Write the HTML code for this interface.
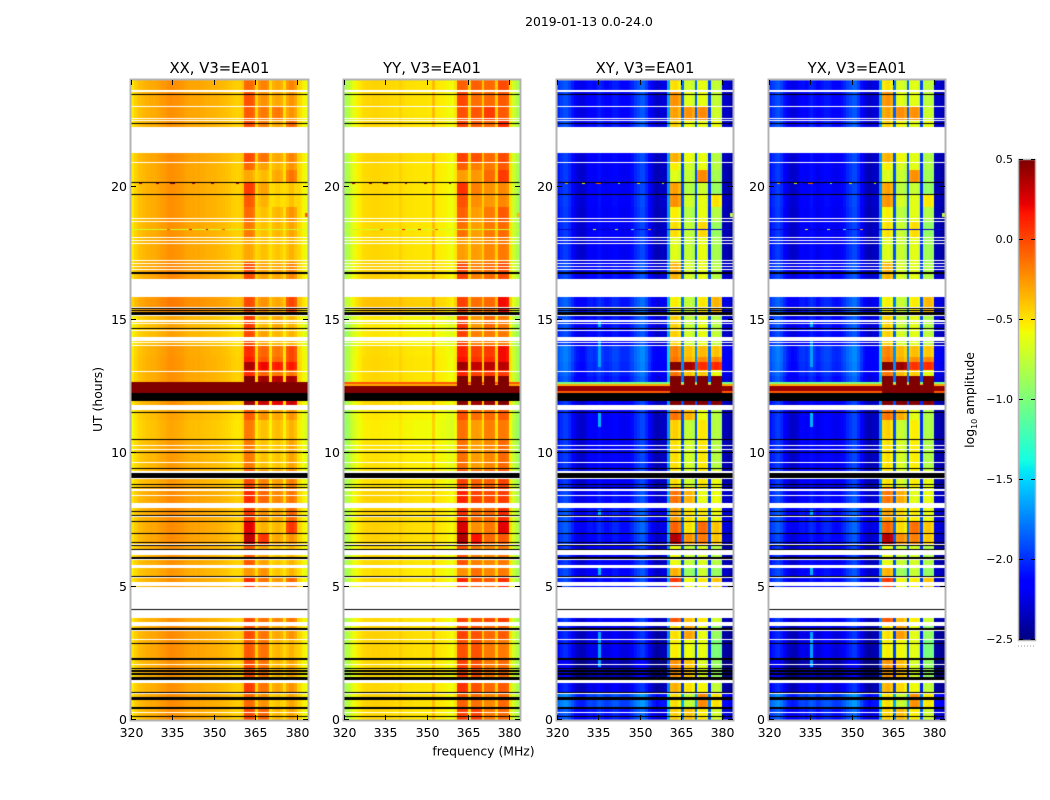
<!DOCTYPE html>
<html lang="en">
<head>
<meta charset="utf-8">
<title>2019-01-13 0.0-24.0</title>
<style>
html,body{margin:0;padding:0;background:#fff;}
#figure{position:relative;width:1050px;height:800px;overflow:hidden;background:#fff;font-family:"DejaVu Sans","Liberation Sans",sans-serif;color:#000;}
canvas{position:absolute;display:block;}
svg{position:absolute;left:0;top:0;}
svg text{font-family:"DejaVu Sans","Liberation Sans",sans-serif;fill:#000;}
</style>
</head>
<body>
<div id="figure">
<svg id="overlay" width="1050" height="800" viewBox="0 0 1050 800">
  <text x="589" y="26" font-size="12.4" text-anchor="middle">2019-01-13 0.0-24.0</text>
  <text x="483.5" y="755.5" font-size="12.4" text-anchor="middle">frequency (MHz)</text>
  <text transform="translate(102,399.5) rotate(-90)" font-size="12.4" text-anchor="middle">UT (hours)</text>
  <text transform="translate(974,400) rotate(-90)" font-size="12.4" text-anchor="middle">log<tspan font-size="8" dy="3">10</tspan><tspan dy="-3"> amplitude</tspan></text>
</svg>
</div>
<script>
// ---- Data ----
const panelTitles = ['XX, V3=EA01','YY, V3=EA01','XY, V3=EA01','YX, V3=EA01'];
const freqTicks = [320,335,350,365,380];
const hourTicks = [0,5,10,15,20];
const colorbarTicks = [0.5,0,-0.5,-1,-1.5,-2,-2.5];
const freqRange = [320,384];
const hourRange = [0,24];
const colorRange = [-2.5,0.5];
const channelCount = 64;
const slotsPerHour = 26.6667;   // 2.25 minute time bins
const totalSlots = 640;

// Base log10 amplitude of each 1 MHz channel
const xxProfile = [-.52,-.44,-.40,-.38,-.36,-.34,-.33,-.32,-.32,-.30,-.28,-.27,-.26,-.23,-.22,-.23,-.24,-.25,-.26,-.28,-.29,-.30,-.30,-.31,-.30,-.31,-.32,-.33,-.33,-.34,-.34,-.35,-.36,-.37,-.38,-.40,-.42,-.43,-.44,-.43,-.38,-.06,-.05,-.06,-.12,-.45,-.22,-.18,-.18,-.22,-.48,-.28,-.25,-.24,-.28,-.48,-.25,-.18,-.18,-.25,-.45,-.48,-.55,-.62];
const yyProfile = [-.85,-.78,-.70,-.62,-.56,-.52,-.49,-.47,-.46,-.46,-.45,-.45,-.45,-.46,-.46,-.46,-.47,-.47,-.48,-.48,-.44,-.48,-.49,-.49,-.49,-.50,-.50,-.50,-.50,-.50,-.51,-.51,-.37,-.52,-.52,-.53,-.54,-.56,-.58,-.60,-.50,-.02,-.02,-.02,-.05,-.45,-.07,-.07,-.07,-.09,-.42,-.05,-.05,-.05,-.07,-.42,.00,.00,.00,-.03,-.50,-.70,-.80,-.85];
const xyProfile = [-2.05,-2.00,-1.95,-1.95,-2.02,-2.12,-2.22,-2.27,-2.30,-2.30,-2.25,-2.18,-2.17,-2.20,-2.15,-2.10,-2.15,-2.20,-2.20,-2.17,-2.12,-2.12,-2.15,-2.20,-2.20,-2.20,-2.15,-2.10,-2.02,-1.97,-1.92,-1.92,-2.02,-2.17,-2.27,-2.32,-2.37,-2.33,-2.32,-2.32,-1.70,-.55,-.52,-.52,-.60,-1.90,-.72,-.68,-.68,-.75,-1.90,-.64,-.60,-.60,-.66,-2.00,-.83,-.78,-.78,-.85,-2.35,-2.35,-2.40,-2.40];
const yxProfile = [-2.08,-2.02,-1.97,-1.95,-2.02,-2.13,-2.22,-2.28,-2.32,-2.30,-2.25,-2.18,-2.17,-2.20,-2.15,-2.10,-2.15,-2.22,-2.20,-2.15,-2.12,-2.12,-2.15,-2.20,-2.22,-2.20,-2.15,-2.10,-2.02,-1.97,-1.92,-1.92,-2.02,-2.17,-2.27,-2.32,-2.37,-2.33,-2.32,-2.32,-1.70,-.57,-.54,-.52,-.60,-1.90,-.70,-.66,-.66,-.74,-1.90,-.66,-.62,-.62,-.68,-2.00,-.83,-.80,-.80,-.85,-2.35,-2.35,-2.40,-2.40];
const channelProfiles = [xxProfile,yyProfile,xyProfile,yxProfile];
const polFamily = ['auto','auto','cross','cross'];

// Channels belonging to each of the four bright sub-bands
const subBands = [[41,44],[46,49],[51,54],[56,59]];

// Time epochs: fromSlot, toSlot, autoBg, crossBg, auto sub-band offsets x4, cross sub-band offsets x4
const timeEpochs = [
 [0,11,   0,   .10,  .05,.10,-.10,-.10,  .10,.30,.10,.10],
 [11,26,  .02, .25, -.05,-.05,-.15,-.10, .05,-.05,.40,.30],
 [26,40,  0,  -.05,  .10,.05,-.05,-.05,  .20,.20,.05,.05],
 [40,62,  0,  -.20,  .05,.05,-.10,-.10,  .30,.30,-.05,-.10],
 [62,80,  .02,-.05,  .00,.05,-.10,-.15,  .00,.10,.00,-.20],
 [80,94,  .02,-.05,  .05,.05,-.05,-.05,  .05,.40,.00,-.10],
 [94,133, 0,   .00,  .05,.05,.05,.05,    .50,.30,.10,.10],
 [133,143,.00, .05,  .15,.05,.00,.10,    .60,.10,.10,.40],
 [143,155,-.02,.05, -.20,-.05,-.15,-.15, .20,-.20,-.10,-.10],
 [155,174,.00, .00,  .00,-.10,-.15,-.15, -.05,-.05,-.05,.00],
 [174,187,.02, .05,  .40,.25,-.05,-.05,  .90,.45,.45,.40],
 [187,198,.02, .10,  .30,-.15,-.10,.25,  .45,.20,.50,.40],
 [198,213,.02, .10,  .10,-.05,-.05,.10,  .25,.20,.10,.20],
 [213,232,.02, .05,  .15,.10,.05,.05,    .40,.35,.00,.20],
 [232,250,-.02,.00,  .05,.00,-.02,.02,   .05,.00,.10,.20],
 [250,280,-.03,.00, -.10,-.20,-.15,-.10, .05,.00,.10,.00],
 [280,300,-.07,.00, -.10,-.20,-.12,-.15, .10,-.05,.10,.00],
 [300,315,-.05,.00,  .00,-.05,-.05,-.05, .40,.35,.00,.00],
 [315,327,.00, .00,  .50,.50,.50,.50,    1.3,1.3,1.3,1.3],
 [327,338,.00, .00,  .50,.50,.50,.50,    1.3,1.3,1.3,1.3],
 [338,344,.00, .10,  .60,.60,.60,.60,    1.4,1.4,1.4,1.4],
 [344,350,.00, .15,  .15,.10,.10,.05,    .40,.30,.20,.20],
 [350,358,.00, .18,  .45,.40,.40,.35,    1.2,1.1,.70,.90],
 [358,363,.00, .20,  .20,.15,.15,.20,    .40,.35,.40,.60],
 [363,374,-.01,.20,  .15,.10,.10,.20,    .35,.30,.25,.40],
 [374,389,-.05,.05,  .05,-.10,-.10,-.15, .10,.00,.00,.05],
 [389,405,-.06,.08,  .10,-.18,-.05,-.15, .10,-.05,.00,.00],
 [405,423,.07, .12,  .05,-.05,-.05,.20,  .00,-.05,.10,.45],
 [441,458,.03, .05,  .05,-.10,-.05,.00,  .20,.00,.00,.00],
 [458,482,.00, .00, -.25,-.20,-.15,-.15, -.10,-.05,.00,-.05],
 [482,498,.00, .00, -.10,-.20,-.10,-.10, .05,-.05,.15,-.10],
 [498,513,.00, .00, -.05,-.20,-.10,-.05, .00,-.10,.00,.00],
 [513,525,.00, .02,  .00,-.15,-.20,-.20, .30,.00,.00,.30],
 [525,537,.00, .00,  .10,-.10,-.18,-.20, .25,-.10,-.10,-.10],
 [537,550,.00, .00, -.25,-.18,-.05,.05, -.10,-.05,.40,-.05],
 [550,557,.00, .00, -.05,-.10,-.10,-.05, .00,.00,.00,.00],
 [557,567,.02, .02,  .05,.05,-.05,.00,   .20,.10,.00,.00],
 [593,600,.00, .08,  .05,.02,-.05,.10,   .10,.10,.00,.20],
 [600,613,.00, .05,  .00,.03,.10,-.05,   .25,.45,.40,.10],
 [613,628,.01, .05,  .03,-.05,-.05,-.05, .30,.05,.00,.05],
 [628,640,.01, .08, -.05,.00,-.05,.00,   .05,.00,.00,.05]
];

// Time bins with no data (drawn white): fromSlot, toSlot
const flaggedSlots = [[7,8],[26,27],[37,40],[55,56],[80,81],[89,90],[94,98],[102,110],[111,133],[134,138],[142,143],[152,155],[160,161],[165,170],[175,176],[203,204],[212,217],[224,225],[229,231],[241,242],[247,249],[257,258],[270,271],[274,275],[310,315],[348,349],[374,375],[377,378],[379,383],[389,390],[396,397],[398,400],[404,405],[412,413],[423,441],[450,451],[453,454],[456,457],[459,460],[476,477],[479,480],[482,483],[498,499],[501,502],[557,558],[567,593],[599,600],[601,602],[613,614],[628,630]];

// Time bins with zero amplitude (drawn black): fromSlot, toSlot
const zeroSlots = [[3,4],[11,13],[20,23],[27,28],[40,43],[45,47],[48,50],[51,52],[60,62],[76,77],[90,92],[110,111],[143,144],[161,163],[170,171],[174,175],[177,178],[186,187],[198,199],[204,205],[208,209],[232,233],[235,236],[242,247],[251,252],[267,268],[280,281],[307,308],[319,327],[391,392],[405,408],[409,410],[411,412],[446,448],[525,526],[537,538],[596,597],[625,626]];

// Absolute overrides: fromSlot, toSlot, fromChannel, toChannel, XX, YY, XY, YX (null keeps the value)
const overrides = [
 [327,329,0,63,  .50,.50,-.05,-.05],
 [329,334,0,63,  .50,.50,.45,.45],
 [334,336,0,63,  .50,-.30,-.30,-.30],
 [336,338,0,63,  .50,-.05,-1.0,-1.0],
 [327,335,41,59, .50,.50,.50,.50],
 [335,338,41,44, .50,.50,.50,.50],
 [335,338,46,49, .50,.50,.50,.50],
 [335,338,51,54, .50,.50,.50,.50],
 [335,338,56,59, .50,.50,.50,.50],
 [503,507,63,63, -.05,-.35,-.75,-.75],
 [490,491,0,63,  -.70,-.70,-2.3,-2.3],
 [490,491,13,13, -.05,-.05,-.60,-.60],
 [490,491,21,21, .20,.20,-.70,-.70],
 [490,491,27,27, .40,.40,-1.2,-1.2],
 [490,491,33,33, -.05,-.05,-.30,-.30],
 [536,537,3,3,   .40,.40,-.30,-.30],
 [536,537,9,9,   .40,.40,-.60,-.60],
 [536,537,14,15, .50,.50,-.10,-.10],
 [536,537,22,22, .40,.40,-1.0,-1.0],
 [536,537,29,29, .45,.45,-.50,-.50],
 [536,537,38,38, .40,.40,-.70,-.70],
 [53,88,15,15,   null,null,-1.65,-1.65],
 [145,153,15,15, null,null,-1.60,-1.60],
 [205,210,15,15, null,null,-1.60,-1.60],
 [293,307,15,15, null,null,-1.60,-1.60],
 [353,383,15,15, null,null,-1.65,-1.65],
 [393,400,15,15, null,null,-1.60,-1.60]
];

// ---- Scales ----
const panelLeft = [131,344,557,769];
const panelRight = [308,520,733,945];
const plotTop = 80, plotBottom = 720;
const cbLeft = 1019, cbRight = 1035, cbTop = 160, cbBottom = 640;

function xScale(p, mhz){ return panelLeft[p] + (mhz-freqRange[0])/(freqRange[1]-freqRange[0])*(panelRight[p]-panelLeft[p]); }
function yScale(hours){ return plotBottom - (hours-hourRange[0])/(hourRange[1]-hourRange[0])*(plotBottom-plotTop); }
function cbScale(v){ return cbBottom - (v-colorRange[0])/(colorRange[1]-colorRange[0])*(cbBottom-cbTop); }

function lerpStops(t, stops){
  if(t<=stops[0][0]) return stops[0][1];
  for(let i=1;i<stops.length;i++){
    if(t<=stops[i][0]){
      const a=stops[i-1], b=stops[i];
      return a[1]+(b[1]-a[1])*(t-a[0])/(b[0]-a[0]);
    }
  }
  return stops[stops.length-1][1];
}
function jet(v){
  const t=Math.max(0,Math.min(1,(v-colorRange[0])/(colorRange[1]-colorRange[0])));
  const r=lerpStops(t,[[.35,0],[.66,1],[.89,1],[1,.5]]);
  const g=lerpStops(t,[[.125,0],[.375,1],[.64,1],[.91,0]]);
  const b=lerpStops(t,[[0,.5],[.11,1],[.34,1],[.65,0]]);
  return 'rgb('+Math.round(r*255)+','+Math.round(g*255)+','+Math.round(b*255)+')';
}

// ---- Per-slot lookup tables ----
const slotState = new Array(totalSlots).fill(0);
flaggedSlots.forEach(function(s){ for(let i=s[0];i<s[1];i++) slotState[i]=1; });
zeroSlots.forEach(function(s){ for(let i=s[0];i<s[1];i++) slotState[i]=2; });
const slotEpoch = new Array(totalSlots).fill(null);
timeEpochs.forEach(function(e){ for(let i=e[0];i<e[1];i++) slotEpoch[i]=e; });
const channelBand = new Array(channelCount).fill(-1);
subBands.forEach(function(b,k){ for(let c=b[0];c<=b[1];c++) channelBand[c]=k; });

function cellValue(p, slot, ch){
  let v = channelProfiles[p][ch];
  const e = slotEpoch[slot];
  if(e){
    const cross = polFamily[p]==='cross';
    const band = channelBand[ch];
    if(band>=0) v += e[(cross?8:4)+band];
    else v += e[cross?3:2];
  }
  for(let i=0;i<overrides.length;i++){
    const o=overrides[i];
    if(slot>=o[0] && slot<o[1] && ch>=o[2] && ch<o[3]+1 && o[4+p]!==null) v=o[4+p];
  }
  return v;
}

// ---- Heatmaps ----
const figure = document.getElementById('figure');
const overlay = document.getElementById('overlay');
panelTitles.forEach(function(title,p){
  const cv = document.createElement('canvas');
  
  
  const w = panelRight[p]-panelLeft[p], h = plotBottom-plotTop;
  cv.width = w; cv.height = h;
  cv.style.left = panelLeft[p]+'px';
  cv.style.top = plotTop+'px';
  figure.insertBefore(cv, overlay);
  const ctx = cv.getContext('2d');
  for(let slot=0;slot<totalSlots;slot++){
    if(slotState[slot]===1) continue;
    const y0 = Math.round(yScale((slot+1)/slotsPerHour))-plotTop;
    const y1 = Math.round(yScale(slot/slotsPerHour))-plotTop;
    for(let ch=0;ch<channelCount;ch++){
      const x0 = Math.round(xScale(p,freqRange[0]+ch))-panelLeft[p];
      const x1 = Math.round(xScale(p,freqRange[0]+ch+1))-panelLeft[p];
      ctx.fillStyle = slotState[slot]===2 ? '#000' : jet(cellValue(p,slot,ch));
      ctx.fillRect(x0,y0,x1-x0,y1-y0);
    }
  }
});

// ---- Axes ----
const NS='http://www.w3.org/2000/svg';
function svgEl(tag, attrs, text){
  const el=document.createElementNS(NS,tag);
  Object.keys(attrs).forEach(function(k){ el.setAttribute(k,attrs[k]); });
  if(text!==undefined) el.textContent=text;
  overlay.appendChild(el);
  return el;
}
function fmtTick(v){ return v.toFixed(1).replace('-','\u2212'); }

panelTitles.forEach(function(title,p){
  const key = title.slice(0,2).toLowerCase();
  const L=panelLeft[p], R=panelRight[p];
  const frame = svgEl('rect',{x:L-0.5,y:plotTop-0.5,width:R-L+1,height:plotBottom-plotTop+1,fill:'none',stroke:'#b4b4b4','stroke-width':2});
  
  
  const t = svgEl('text',{x:(L+R)/2,y:73,'font-size':14.8,'text-anchor':'middle'},title);
  
  
  freqTicks.forEach(function(f){
    const x=Math.round(xScale(p,f))+0.5;
    const a=svgEl('line',{x1:x,x2:x,y1:plotBottom,y2:plotBottom-5,stroke:'#000','stroke-width':1});
    
    
    const b=svgEl('line',{x1:x,x2:x,y1:plotTop,y2:plotTop+5,stroke:'#000','stroke-width':1});
    
    
    const lab=svgEl('text',{x:x,y:737,'font-size':12.5,'text-anchor':'middle'},String(f));
    
    
  });
  hourTicks.forEach(function(h){
    const y=Math.round(yScale(h))-0.5;
    const a=svgEl('line',{x1:L,x2:L+5,y1:y,y2:y,stroke:'#000','stroke-width':1});
    
    
    const b=svgEl('line',{x1:R,x2:R-5,y1:y,y2:y,stroke:'#000','stroke-width':1});
    
    
    const lab=svgEl('text',{x:L-4,y:y+4.5,'font-size':12.5,'text-anchor':'end'},String(h));
    
    
  });
});

// ---- Colorbar ----
const cbSteps = 256;
for(let i=0;i<cbSteps;i++){
  const v0 = colorRange[0]+(colorRange[1]-colorRange[0])*i/cbSteps;
  const v1 = colorRange[0]+(colorRange[1]-colorRange[0])*(i+1)/cbSteps;
  const seg = svgEl('rect',{x:cbLeft,y:cbScale(v1),width:cbRight-cbLeft,height:cbScale(v0)-cbScale(v1)+0.4,fill:jet((v0+v1)/2)});
  
  
}
const cbFrame = svgEl('rect',{x:cbLeft-0.5,y:cbTop-0.5,width:cbRight-cbLeft+1,height:cbBottom-cbTop+1,fill:'none',stroke:'#b4b4b4','stroke-width':1.5});


colorbarTicks.forEach(function(v){
  const y=Math.round(cbScale(v))-0.5;
  const a=svgEl('line',{x1:cbLeft,x2:cbLeft+4,y1:y,y2:y,stroke:'#000','stroke-width':1});
  
  
  const b=svgEl('line',{x1:cbRight,x2:cbRight-4,y1:y,y2:y,stroke:'#000','stroke-width':1});
  
  
  const lab=svgEl('text',{x:1013,y:y+3.5,'font-size':11,'text-anchor':'end'},fmtTick(v));
  
  
});
const cbDots = svgEl('line',{x1:1018,x2:1035,y1:646,y2:646,stroke:'#999','stroke-width':1,'stroke-dasharray':'1 2'});


</script>
</body>
</html>
